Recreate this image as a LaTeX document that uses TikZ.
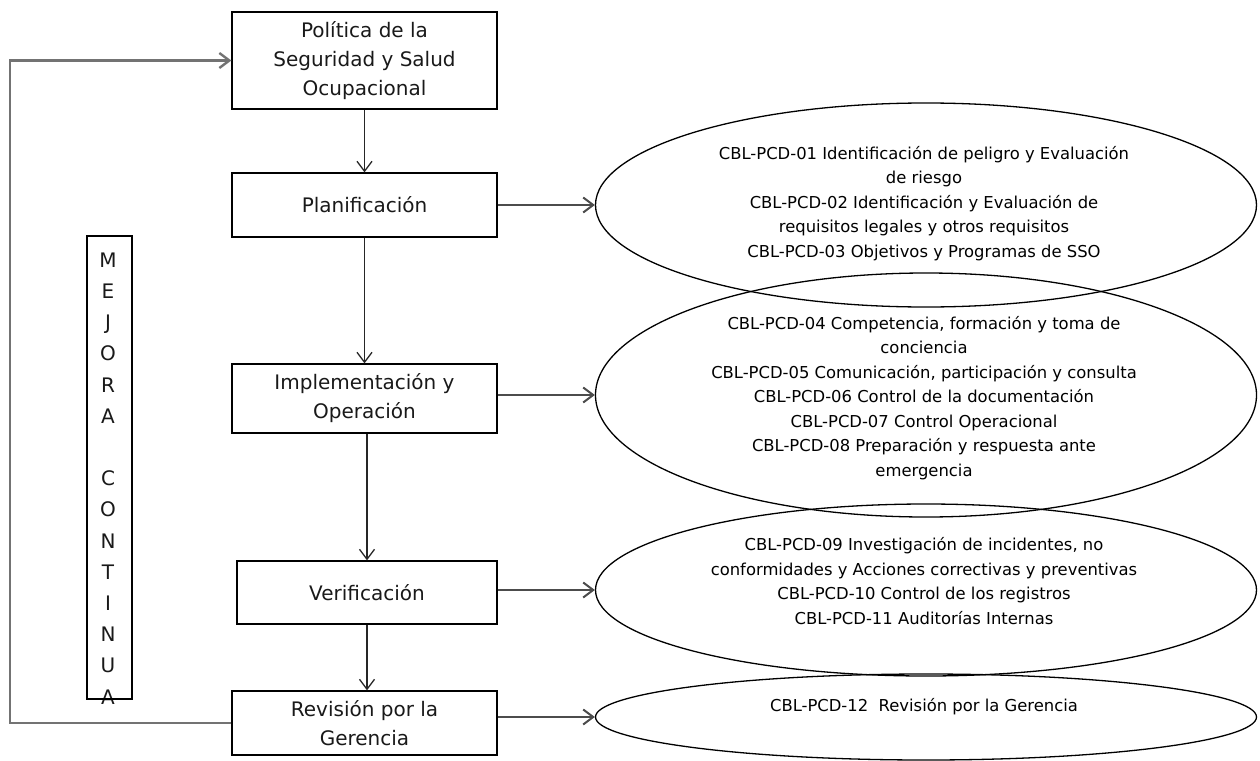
\documentclass[tikz,border=0pt]{standalone}
\usepackage{fontspec}
\setmainfont{DejaVu Sans}
\usetikzlibrary{arrows.meta,shapes.geometric}
\begin{document}
\begin{tikzpicture}[x=1pt,y=-1pt,
  box/.style={draw=black, line width=1.3pt, minimum width=265pt, inner sep=0pt, align=center, text=black!90, font=\fontsize{20}{29}\selectfont},
  ell/.style={draw=black, ellipse, line width=1.3pt, inner sep=0pt, minimum width=661pt},
  etxt/.style={align=center, inner sep=0pt, text=black, font=\fontsize{16.4}{24.5}\selectfont},
  varr/.style={draw=black!85, line width=1.3pt, -{Straight Barb[length=10pt,width=15pt]}},
  harr/.style={draw=black!70, line width=2pt, -{Straight Barb[length=10pt,width=15pt]}},
  fb/.style={draw=black!55, line width=2.4pt, -{Straight Barb[length=10pt,width=15pt]}}
]
\useasboundingbox (0,0) rectangle (1260,760);

% process boxes
\node[box, minimum height=97pt] (b1) at (364.5,60.5) {Política de la\\Seguridad y Salud\\Ocupacional};
\node[box, minimum height=64pt] (b2) at (364.5,205) {Planificación};
\node[box, minimum height=69pt] (b3) at (364.5,398.5) {Implementación y\\Operación};
\node[box, minimum width=260pt, minimum height=63pt] (b4) at (367,592.5) {Verificación};
\node[box, minimum height=64pt] (b5) at (364.5,723) {Revisión por la\\Gerencia};

% ellipses
\node[ell, minimum height=204pt] (e1) at (926,205) {};
\node[ell, minimum height=244pt] (e2) at (926,395) {};
\node[ell, minimum height=172pt] (e3) at (926,590) {};
\node[ell, minimum height=86pt] (e4) at (926,717) {};

\node[etxt] (t1) at (924,203.5) {CBL-PCD-01 Identificación de peligro y Evaluación\\de riesgo\\CBL-PCD-02 Identificación y Evaluación de\\requisitos legales y otros requisitos\\CBL-PCD-03 Objetivos y Programas de SSO};
\node[etxt] (t2) at (924,398) {CBL-PCD-04 Competencia, formación y toma de\\conciencia\\CBL-PCD-05 Comunicación, participación y consulta\\CBL-PCD-06 Control de la documentación\\CBL-PCD-07 Control Operacional\\CBL-PCD-08 Preparación y respuesta ante\\emergencia};
\node[etxt] (t3) at (924,581) {CBL-PCD-09 Investigación de incidentes, no\\conformidades y Acciones correctivas y preventivas\\CBL-PCD-10 Control de los registros\\CBL-PCD-11 Auditorías Internas};
\node[etxt] (t4) at (924,707) {CBL-PCD-12\ \ Revisión por la Gerencia};

% Mejora continua bar
\node[inner sep=0pt, align=center, text=black!90, font=\fontsize{20}{31.2}\selectfont] (mtxt) at (108,478.5) {M\\E\\J\\O\\R\\A\\\mbox{}\\C\\O\\N\\T\\I\\N\\U\\A};
\node[draw=black, line width=1.3pt, minimum width=45pt, minimum height=463pt, inner sep=0pt] (mbox) at (109.5,467.5) {};

% vertical arrows
\draw[varr] (b1) -- (b2);
\draw[varr] (b2) -- (b3);
\draw[varr] (b4.north |- b3.south) -- (b4.north);
\draw[varr] (b4.south) -- (b4.south |- b5.north);

% horizontal arrows
\draw[harr] (b2.east) -- (e1.west);
\draw[harr] (b3.east |- e2.west) -- (e2.west);
\draw[harr] (b4.east |- e3.west) -- (e3.west);
\draw[harr] (b5.east |- e4.west) -- (e4.west);

% feedback loop
\coordinate (fbx) at (10,0);
\draw[fb] (b5.west) -- (b5.west -| fbx) |- (b1.west);
\end{tikzpicture}
\end{document}
